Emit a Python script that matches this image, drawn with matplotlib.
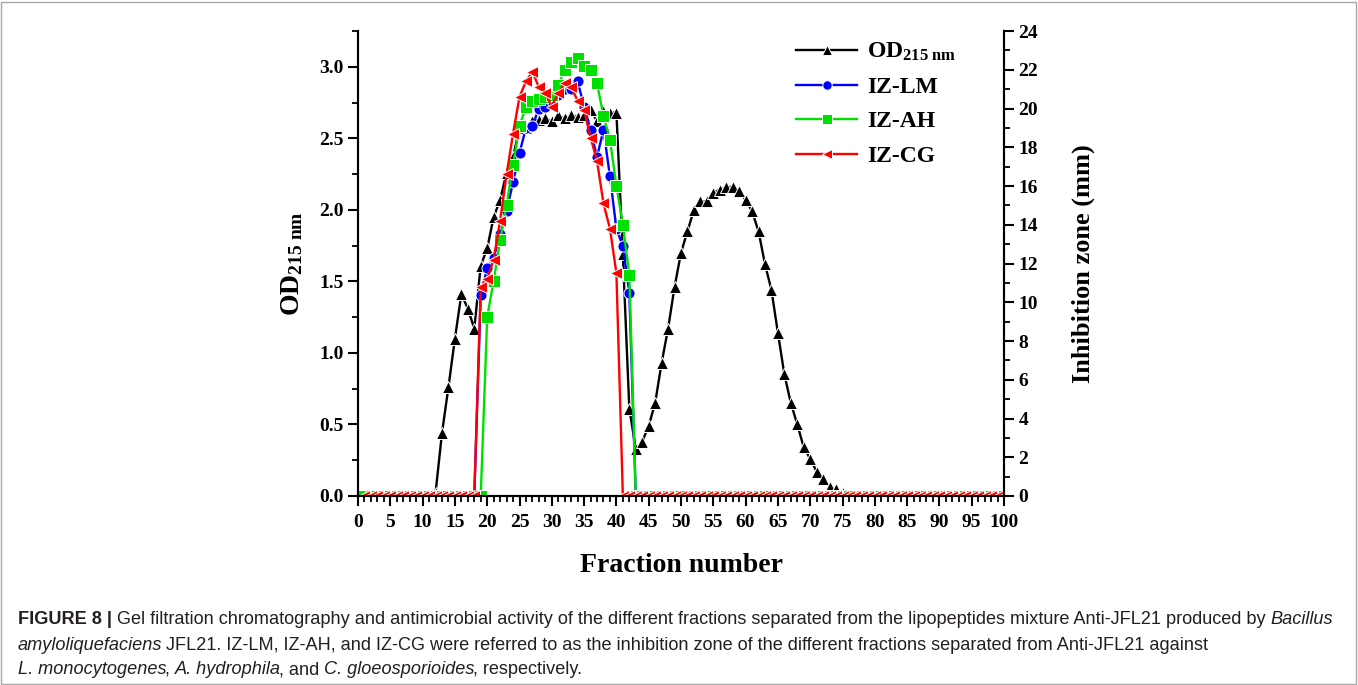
import numpy as np
import matplotlib
matplotlib.use('Agg')
import matplotlib.pyplot as plt
from matplotlib import font_manager
from matplotlib.ticker import MultipleLocator
from matplotlib.patches import Rectangle

# fractions 1..100
fraction = np.arange(1, 101)

od_215 = [0.01, 0.0, 0.0, 0.0, 0.0, 0.0, 0.0, 0.0, 0.01, 0.0,
          0.01, 0.02, 0.44, 0.76, 1.10, 1.41, 1.31, 1.17, 1.61, 1.73,
          1.95, 2.07, 2.26, 2.37, 2.57, 2.57, 2.62, 2.63, 2.64, 2.62,
          2.66, 2.64, 2.66, 2.65, 2.66, 2.70, 2.62, 2.69, 2.68, 2.68,
          1.69, 0.61, 0.33, 0.38, 0.49, 0.65, 0.93, 1.17, 1.46, 1.70,
          1.85, 2.00, 2.06, 2.06, 2.12, 2.14, 2.16, 2.16, 2.13, 2.07,
          1.99, 1.85, 1.62, 1.44, 1.14, 0.85, 0.65, 0.50, 0.34, 0.26,
          0.17, 0.12, 0.065, 0.05, 0.02, 0.0, 0.0, 0.0, 0.0, 0.0,
          0.0, 0.0, 0.0, 0.0, 0.0, 0.0, 0.0, 0.0, 0.0, 0.0,
          0.0, 0.0, 0.0, 0.0, 0.0, 0.0, 0.0, 0.0, 0.0, 0.0]

iz_lm = [0, 0, 0, 0, 0, 0, 0, 0, 0, 0,
         0, 0, 0, 0, 0, 0, 0, 0, 10.4, 11.75,
         12.3, 13.5, 14.7, 16.2, 17.7, 19.0, 19.1, 20.0, 20.1, 20.4,
         20.7, 21.0, 21.0, 21.4, 20.1, 18.9, 17.5, 18.9, 16.5, 13.8,
         12.9, 10.5, 0, 0, 0, 0, 0, 0, 0, 0,
         0, 0, 0, 0, 0, 0, 0, 0, 0, 0,
         0, 0, 0, 0, 0, 0, 0, 0, 0, 0,
         0, 0, 0, 0, 0, 0, 0, 0, 0, 0,
         0, 0, 0, 0, 0, 0, 0, 0, 0, 0,
         0, 0, 0, 0, 0, 0, 0, 0, 0, 0]

iz_ah = [0, 0, 0, 0, 0, 0, 0, 0, 0, 0,
         0, 0, 0, 0, 0, 0, 0, 0, 0, 9.25,
         11.1, 13.2, 15.0, 17.1, 19.1, 20.1, 20.4, 20.5, 20.6, 20.7,
         21.2, 22.0, 22.4, 22.6, 22.2, 22.0, 21.3, 19.6, 18.4, 16.0,
         14.0, 11.4, 0, 0, 0, 0, 0, 0, 0, 0,
         0, 0, 0, 0, 0, 0, 0, 0, 0, 0,
         0, 0, 0, 0, 0, 0, 0, 0, 0, 0,
         0, 0, 0, 0, 0, 0, 0, 0, 0, 0,
         0, 0, 0, 0, 0, 0, 0, 0, 0, 0,
         0, 0, 0, 0, 0, 0, 0, 0, 0, 0]

iz_cg = [0, 0, 0, 0, 0, 0, 0, 0, 0, 0,
         0, 0, 0, 0, 0, 0, 0, 0, 10.8, 11.2,
         12.2, 14.2, 16.6, 18.7, 20.6, 21.4, 21.9, 21.1, 20.8, 20.1,
         20.8, 21.3, 21.1, 20.4, 19.9, 18.5, 17.3, 15.1, 13.8, 11.5,
         0, 0, 0, 0, 0, 0, 0, 0, 0, 0,
         0, 0, 0, 0, 0, 0, 0, 0, 0, 0,
         0, 0, 0, 0, 0, 0, 0, 0, 0, 0,
         0, 0, 0, 0, 0, 0, 0, 0, 0, 0,
         0, 0, 0, 0, 0, 0, 0, 0, 0, 0,
         0, 0, 0, 0, 0, 0, 0, 0, 0, 0]

legend_labels = [r'OD$_{\rm 215\ nm}$', 'IZ-LM', 'IZ-AH', 'IZ-CG']

plt.rcParams['font.family'] = 'Liberation Serif'
plt.rcParams['font.weight'] = 'bold'
plt.rcParams['axes.labelweight'] = 'bold'
plt.rcParams['mathtext.fontset'] = 'custom'
plt.rcParams['mathtext.rm'] = 'Liberation Serif:bold'
plt.rcParams['mathtext.it'] = 'Liberation Serif:italic:bold'
plt.rcParams['mathtext.bf'] = 'Liberation Serif:bold'

W, H = 1358, 685
fig = plt.figure(figsize=(W / 100, H / 100), dpi=100)
ax = fig.add_axes([358 / W, 1 - 496 / H, (1004 - 358) / W, (496 - 31) / H])
ax2 = ax.twinx()

kw = dict(lw=1.7, ms=8, mew=0.7, mec='white')
h_od, = ax.plot(fraction, od_215, '-^', color='black', **kw)
h_lm, = ax2.plot(fraction, iz_lm, '-o', color='#0000ff', **kw)
h_ah, = ax2.plot(fraction, iz_ah, '-s', color='#00e000', **kw)
h_cg, = ax2.plot(fraction, iz_cg, '-<', color='#ff0000', **kw)

ax.set_xlim(0, 100)
ax.set_ylim(0, 3.25)
ax2.set_ylim(0, 24)
ax.xaxis.set_major_locator(MultipleLocator(5))
ax.xaxis.set_minor_locator(MultipleLocator(1))
ax.yaxis.set_major_locator(MultipleLocator(0.5))
ax.yaxis.set_minor_locator(MultipleLocator(0.25))
ax2.yaxis.set_major_locator(MultipleLocator(2))
ax2.yaxis.set_minor_locator(MultipleLocator(1))
ax.yaxis.set_major_formatter('{x:.1f}')

for a in (ax, ax2):
    a.spines['top'].set_visible(False)
    for s in ('left', 'right', 'bottom'):
        a.spines[s].set_linewidth(1.5)
    a.tick_params(which='major', direction='out', length=7, width=1.5, labelsize=14)
    a.tick_params(which='minor', direction='out', length=4, width=1.3)
ax.tick_params(axis='x', pad=6)

ax.set_xlabel('Fraction number', fontsize=20, labelpad=16)
ax.set_ylabel(r'OD$_{\rm 215\ nm}$', fontsize=20, labelpad=10)
ax2.set_ylabel('Inhibition zone (mm)', fontsize=19, labelpad=24)

leg = ax2.legend([h_od, h_lm, h_ah, h_cg], legend_labels, loc='upper left',
                 bbox_to_anchor=(796 / W, 1 - 41 / H), bbox_transform=fig.transFigure,
                 frameon=False, fontsize=17, handlelength=2.6, handletextpad=0.4,
                 borderpad=0, borderaxespad=0, labelspacing=0.55, markerscale=0.85)

# figure frame
fig.patches.append(Rectangle((1 / W, 1 / H), (W - 3) / W, (H - 3) / H, transform=fig.transFigure,
                             fill=False, ec='#a8a8a8', lw=1))

# caption
names = {f.name for f in font_manager.fontManager.ttflist}
cap_font = 'Liberation Sans Narrow' if 'Liberation Sans Narrow' in names else 'Liberation Sans'
cap_color = '#231f20'

caption = [
    [('FIGURE 8 |', 'normal', 'bold', True),
     ('Gel filtration chromatography and antimicrobial activity of the different fractions separated '
      'from the lipopeptides mixture Anti-JFL21 produced by', 'normal', 'normal', True),
     ('Bacillus', 'italic', 'normal', True)],
    [('amyloliquefaciens', 'italic', 'normal', True),
     ('JFL21. IZ-LM, IZ-AH, and IZ-CG were referred to as the inhibition zone of the different '
      'fractions separated from Anti-JFL21 against', 'normal', 'normal', True)],
    [('L. monocytogenes', 'italic', 'normal', True), (',', 'normal', 'normal', False),
     ('A. hydrophila', 'italic', 'normal', True), (', and', 'normal', 'normal', False),
     ('C. gloeosporioides', 'italic', 'normal', True), (', respectively.', 'normal', 'normal', False)],
]
cap_y = [619, 645, 670]
renderer = fig.canvas.get_renderer()


def draw_caption(size):
    drawn = []
    first_width = 0
    sp_a = fig.text(0, 0, 'a a', family=cap_font, size=size)
    sp_b = fig.text(0, 0, 'aa', family=cap_font, size=size)
    space = sp_a.get_window_extent(renderer).width - sp_b.get_window_extent(renderer).width
    sp_a.remove()
    sp_b.remove()
    for i, (line, yy) in enumerate(zip(caption, cap_y)):
        x = 18
        prev_italic = False
        for j, (txt, style, weight, gap) in enumerate(line):
            if j > 0 and gap:
                x += space
            if prev_italic:
                x -= 0.35 * space
            t = fig.text(x / W, 1 - yy / H, txt, family=cap_font, style=style, weight=weight,
                         size=size, color=cap_color, va='center', ha='left')
            drawn.append(t)
            x += t.get_window_extent(renderer).width
            prev_italic = style == 'italic'
        if i == 0:
            first_width = x - 18
    return drawn, first_width


base = 12
parts, wdt = draw_caption(base)
for p in parts:
    p.remove()
draw_caption(base * 1318 / wdt)

fig.savefig('out.png', dpi=100)
